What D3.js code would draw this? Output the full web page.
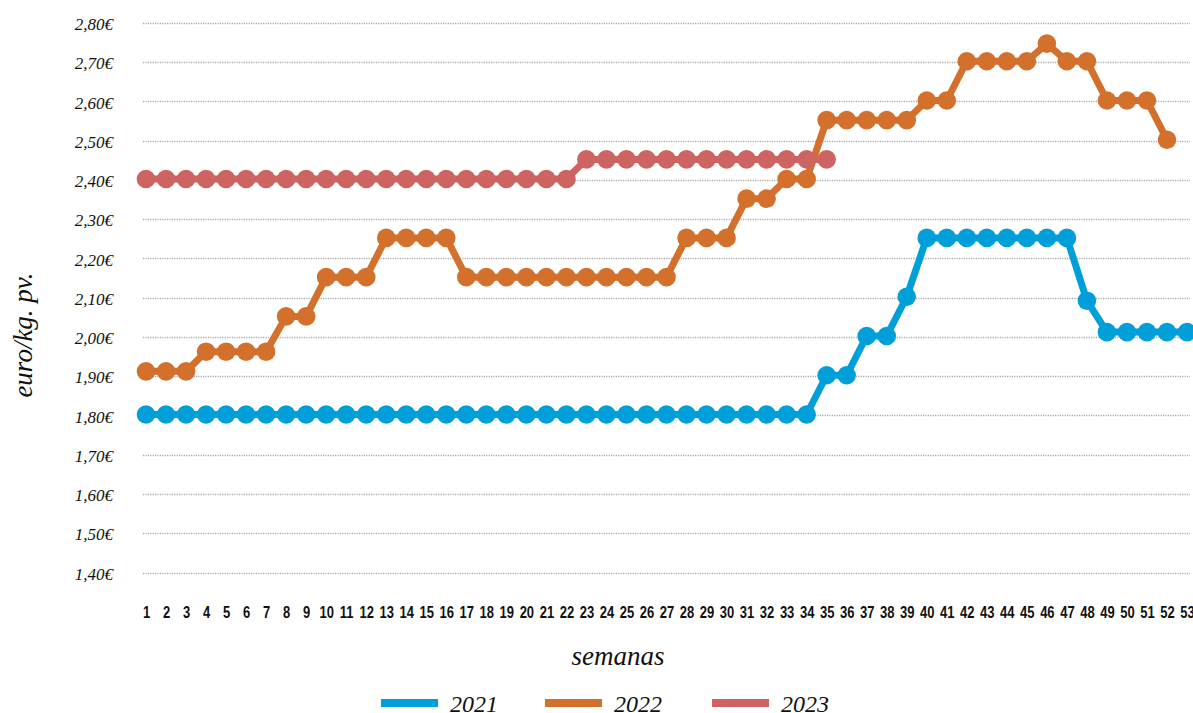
<!DOCTYPE html>
<html><head><meta charset="utf-8">
<script src="https://cdn.jsdelivr.net/npm/d3@7"></script>
<style>body{margin:0;background:#fff}</style>
</head><body>
<svg id="c" width="1193" height="713"></svg>
<script>
const weeks = d3.range(1, 54);
const yTicks = [1.4,1.5,1.6,1.7,1.8,1.9,2.0,2.1,2.2,2.3,2.4,2.5,2.6,2.7,2.8];
const s2021 = [1.80,1.80,1.80,1.80,1.80,1.80,1.80,1.80,1.80,1.80,1.80,1.80,1.80,1.80,1.80,1.80,1.80,1.80,1.80,1.80,1.80,1.80,1.80,1.80,1.80,1.80,1.80,1.80,1.80,1.80,1.80,1.80,1.80,1.80,
  1.90,1.90,2.00,2.00,2.10,2.25,2.25,2.25,2.25,2.25,2.25,2.25,2.25,2.09,2.01,2.01,2.01,2.01,2.01];
const s2022 = [1.91,1.91,1.91,1.96,1.96,1.96,1.96,2.05,2.05,2.15,2.15,2.15,2.25,2.25,2.25,2.25,
  2.15,2.15,2.15,2.15,2.15,2.15,2.15,2.15,2.15,2.15,2.15,2.25,2.25,2.25,2.35,2.35,2.40,2.40,
  2.55,2.55,2.55,2.55,2.55,2.60,2.60,2.70,2.70,2.70,2.70,2.745,2.70,2.70,2.60,2.60,2.60,2.50];
const s2023 = [2.40,2.40,2.40,2.40,2.40,2.40,2.40,2.40,2.40,2.40,2.40,2.40,2.40,2.40,2.40,2.40,2.40,2.40,2.40,2.40,2.40,2.40,
  2.45,2.45,2.45,2.45,2.45,2.45,2.45,2.45,2.45,2.45,2.45,2.45,2.45];
const seriesNames = ["2021","2022","2023"];
const colors = ["#009fda","#d2702c","#cd6462"];

const svg = d3.select("#c");
const x = d3.scalePoint().domain(weeks).range([146, 1187]);
const y = d3.scaleLinear().domain([1.4, 2.8]).range([571.5, 22]);
const serif = "'Liberation Serif','DejaVu Serif',serif";

// grid
svg.append("g").selectAll("line").data(yTicks).join("line")
  .attr("x1", 143).attr("x2", 1190)
  .attr("y1", d => Math.round(y(d)) + 1.5).attr("y2", d => Math.round(y(d)) + 1.5)
  .attr("stroke", "#a8a8a8").attr("stroke-width", 1.6).attr("stroke-dasharray", "1.2,1.2");

// y labels
const yAxis = d3.axisLeft(y).tickValues(yTicks).tickSize(0).tickPadding(0)
  .tickFormat(d => d3.format(".2f")(d).replace(".", ",") + "€");
const ya = svg.append("g").attr("transform", "translate(113,1.5)").call(yAxis);
ya.select(".domain").remove();
ya.selectAll("text").attr("font-family", serif).attr("font-style", "italic")
  .attr("font-size", 17).attr("fill", "#111").attr("dy", "0.36em");

// x labels
const xAxis = d3.axisBottom(x).tickSize(0).tickPadding(0);
const xa = svg.append("g").attr("transform", "translate(0,618)").call(xAxis);
xa.select(".domain").remove();
xa.selectAll("text").attr("font-family", "'Liberation Sans Narrow','Liberation Sans',sans-serif")
  .attr("font-weight", "bold").attr("font-size", 13).attr("fill", "#111")
  .attr("y", 0).attr("dy", 0).attr("transform", "scale(1,1.3)");

// series
const all = [s2021, s2022, s2023];
const line = d3.line().x((d, i) => x(weeks[i])).y(d => y(d));
all.forEach((s, k) => {
  const g = svg.append("g");
  g.append("path").datum(s).attr("d", line).attr("fill", "none")
    .attr("stroke", colors[k]).attr("stroke-width", 7).attr("stroke-linejoin", "round");
  g.selectAll("circle").data(s).join("circle")
    .attr("cx", (d, i) => x(weeks[i])).attr("cy", d => y(d)).attr("r", 9.3)
    .attr("fill", colors[k]);
});

// axis titles
svg.append("text").attr("transform", "translate(32,335) rotate(-90)")
  .attr("text-anchor", "middle").attr("font-family", serif).attr("font-style", "italic")
  .attr("font-size", 27).attr("fill", "#111").text("euro/kg. pv.");
svg.append("text").attr("x", 618).attr("y", 665)
  .attr("text-anchor", "middle").attr("font-family", serif).attr("font-style", "italic")
  .attr("font-size", 27).attr("fill", "#111").text("semanas");

// legend
const legX = [381, 545, 712];
seriesNames.forEach((n, k) => {
  svg.append("rect").attr("x", legX[k]).attr("y", 699).attr("width", 57).attr("height", 8).attr("fill", colors[k]);
  svg.append("text").attr("x", legX[k] + 69).attr("y", 712)
    .attr("font-family", serif).attr("font-style", "italic").attr("font-size", 24)
    .attr("fill", "#111").text(n);
});
</script>
</body></html>
